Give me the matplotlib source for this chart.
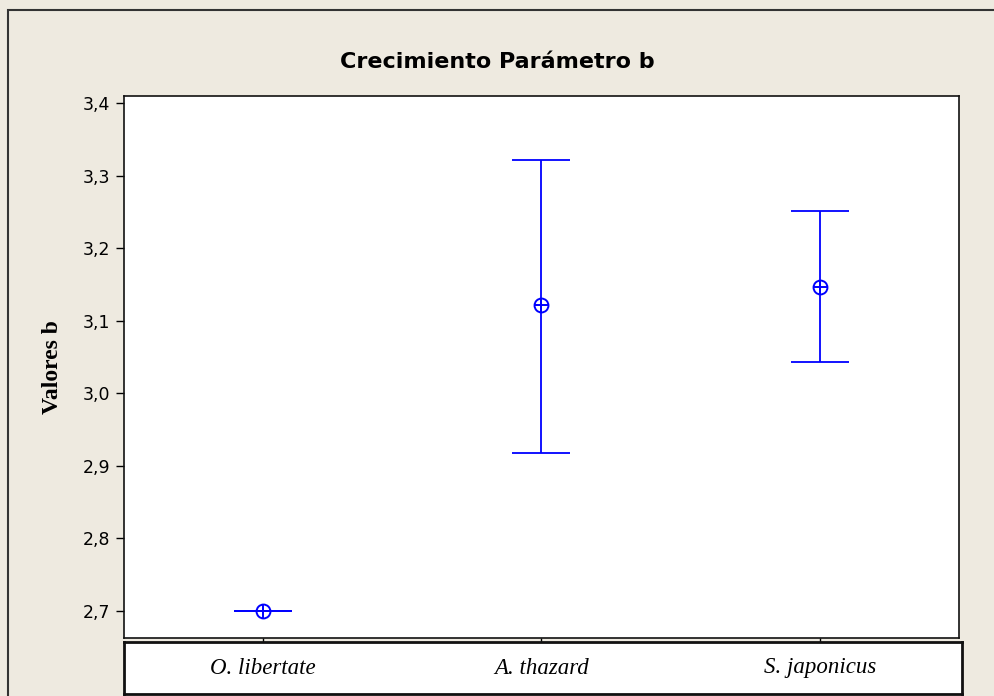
import matplotlib.pyplot as plt
from matplotlib.patches import Rectangle
from matplotlib.ticker import FuncFormatter

especies = ['O. libertate', 'A. thazard', 'S. japonicus']
media_b = [2.700, 3.122, 3.146]
limite_inf = [2.700, 2.918, 3.043]
limite_sup = [2.700, 3.322, 3.251]

blue = '#0000ff'
fondo = '#eeeae0'

fig = plt.figure(figsize=(9.95, 6.96), dpi=100, facecolor=fondo)
# outer frame (cut by the image edge on right/bottom)
fig.patches.append(Rectangle((8 / 995, -0.1), 1.2, 1 - 10 / 696 + 0.1,
                             transform=fig.transFigure, fill=False,
                             edgecolor='#333333', linewidth=1.5))

ax = fig.add_axes([124 / 995, 1 - 638 / 696, 835 / 995, 542 / 696])
ax.set_facecolor('white')

x = list(range(1, len(especies) + 1))
err_lo = [m - lo for m, lo in zip(media_b, limite_inf)]
err_hi = [hi - m for m, hi in zip(media_b, limite_sup)]
ax.errorbar(x, media_b, yerr=[err_lo, err_hi], fmt='none', ecolor=blue,
            elinewidth=1.3, capsize=21, capthick=1.3)
# circle with cross for the mean
ax.plot(x, media_b, 'o', ms=10, mfc='none', mec=blue, mew=1.4)
ax.plot(x, media_b, '_', ms=10, color=blue, mew=1.4)
ax.plot(x, media_b, '|', ms=10, color=blue, mew=1.4)

ax.set_xlim(0.5, 3.5)
ax.set_ylim(2.6628, 3.4097)
ax.set_yticks([2.7, 2.8, 2.9, 3.0, 3.1, 3.2, 3.3, 3.4])
ax.yaxis.set_major_formatter(FuncFormatter(lambda v, p: ('%.1f' % v).replace('.', ',')))
ax.set_xticks(x)
ax.set_xticklabels([])
ax.tick_params(axis='y', direction='out', length=6, width=1, labelsize=12.5, pad=4)
ax.tick_params(axis='x', direction='out', length=4, width=1)
for s in ax.spines.values():
    s.set_linewidth(1.2)
    s.set_color('#111111')

ax.set_ylabel('Valores b', fontsize=17, fontweight='bold', family='Liberation Serif')
ax.yaxis.set_label_coords(-61 / 835, 0.5)
fig.text(0.5, 1 - 62 / 696, 'Crecimiento Parámetro b', ha='center', va='center',
         fontsize=16, fontweight='bold')

# category box under the axes
box = fig.add_axes([124 / 995, 1 - 694 / 696, 838 / 995, 52 / 696])
box.set_xlim(0.5, 0.5 + 3 * 838 / 835)
box.set_ylim(0, 1)
box.set_xticks([])
box.set_yticks([])
for s in box.spines.values():
    s.set_linewidth(2)
    s.set_color('#111111')
for xi, nombre in zip(x, especies):
    box.text(xi, 0.5, nombre, ha='center', va='center', fontsize=16.5,
             style='italic', family='Liberation Serif')

fig.savefig('out.png', dpi=100, facecolor=fondo)
